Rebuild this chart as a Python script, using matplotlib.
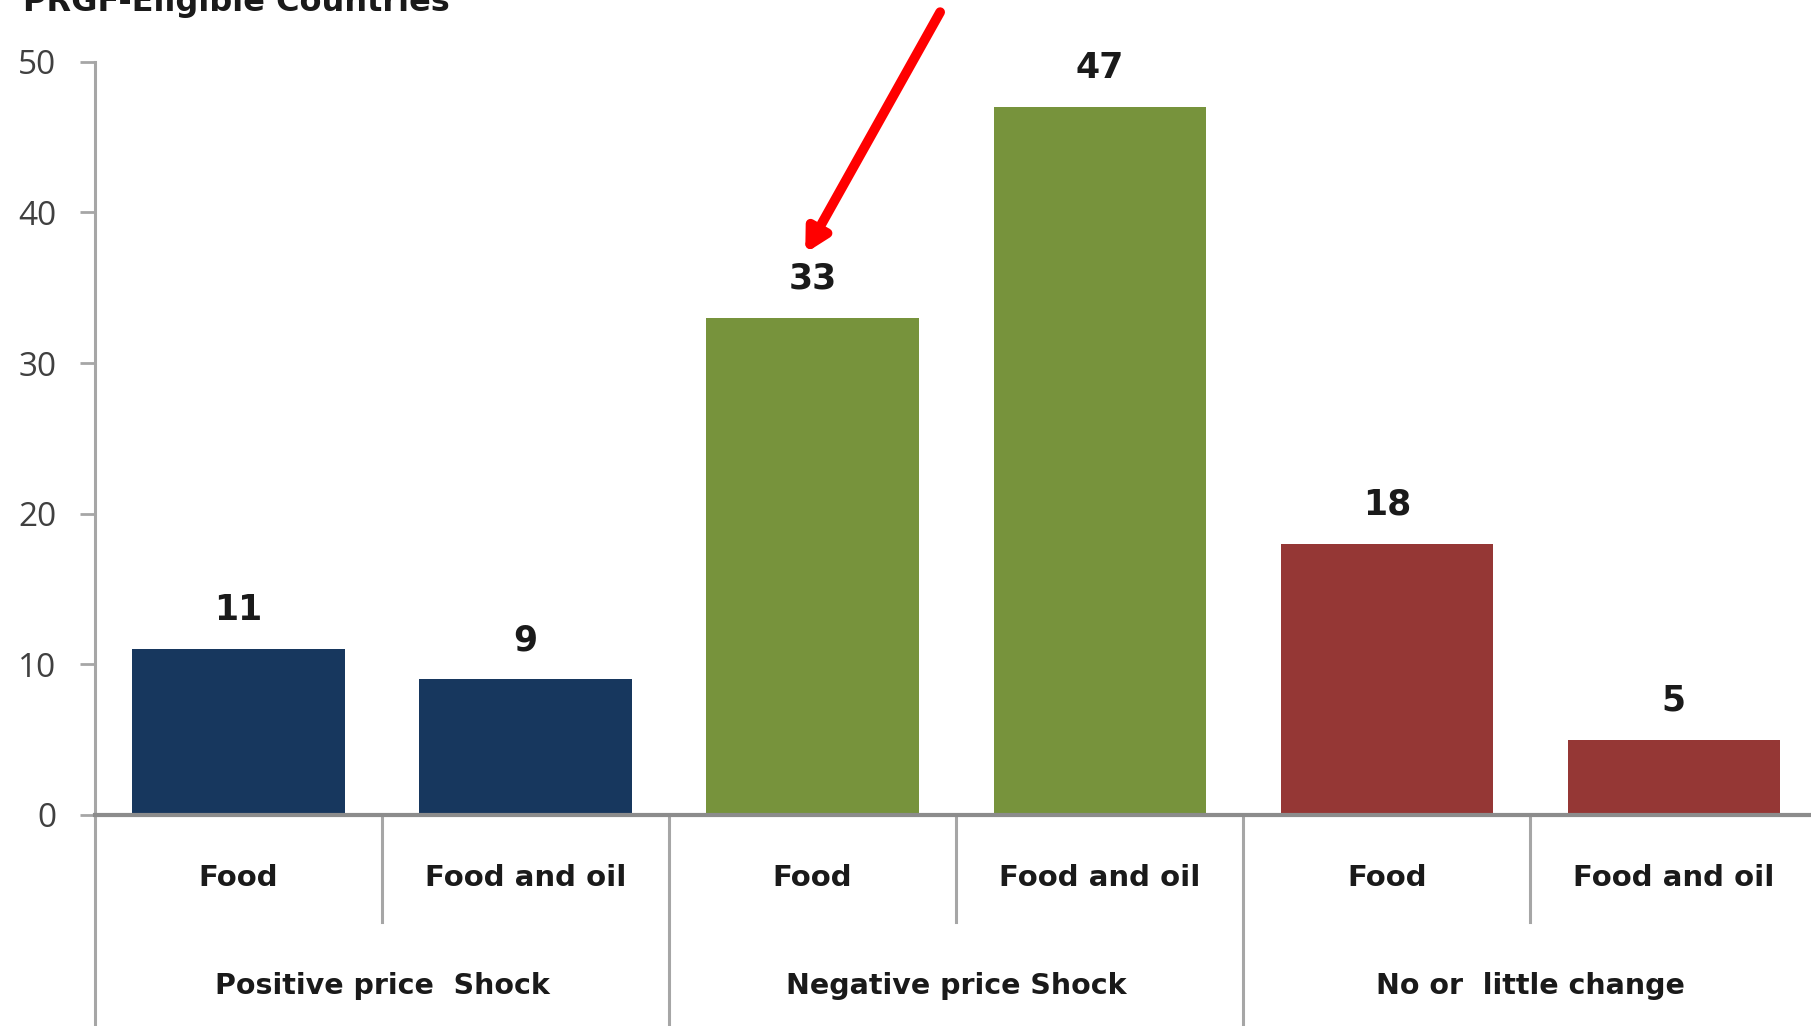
import matplotlib.pyplot as plt

# data
groups = ["Positive price  Shock", "Negative price Shock", "No or  little change"]
subcats = ["Food", "Food and oil"]
values = [11, 9, 33, 47, 18, 5]
colors = ["#17375E", "#17375E", "#77933C", "#77933C", "#953735", "#953735"]
yticks = [0, 10, 20, 30, 40, 50]

fig = plt.figure(figsize=(18.11, 10.26), dpi=100)
ax = fig.add_axes([0.0525, 0.2057, 0.951, 0.734])

x = list(range(len(values)))
ax.bar(x, values, width=0.74, color=colors, zorder=2)

ax.set_xlim(-0.5, len(values) - 0.5)
ax.set_ylim(0, 50)
ax.set_yticks(yticks)
ax.set_yticklabels([str(t) for t in yticks], fontsize=24, family="Open Sans", color="#404040")
ax.tick_params(axis="y", length=11, width=2, color="#a6a6a6", pad=17)
ax.set_xticks([])

for s in ["top", "right"]:
    ax.spines[s].set_visible(False)
ax.spines["left"].set_color("#a6a6a6")
ax.spines["left"].set_linewidth(2.2)
ax.spines["bottom"].set_color("#8c8c8c")
ax.spines["bottom"].set_linewidth(3)
ax.spines["bottom"].set_zorder(3)

# value labels
for xi, v in zip(x, values):
    ax.annotate(str(v), (xi, v), xytext=(0, 21), textcoords="offset points",
                ha="center", va="baseline", fontsize=25, fontweight="bold",
                color="#1a1a1a", family="DejaVu Sans")

# two-level category axis
tr = ax.get_xaxis_transform()
for i, xi in enumerate(x):
    ax.text(xi, -0.084, subcats[i % 2], transform=tr, ha="center", va="center",
            fontsize=21, fontweight="bold", color="#1a1a1a", family="DejaVu Sans")
for g, name in enumerate(groups):
    ax.text(2 * g + 0.5, -0.227, name, transform=tr, ha="center", va="center",
            fontsize=20.5, fontweight="bold", color="#1a1a1a", family="DejaVu Sans")

for b in [0.5, 2.5, 4.5]:
    ax.plot([b, b], [0, -0.142], transform=tr, color="#a6a6a6", lw=2.2, clip_on=False)
for b in [-0.5, 1.5, 3.5]:
    ax.plot([b, b], [0, -0.3], transform=tr, color="#a6a6a6", lw=2.2, clip_on=False)

# red arrow pointing at the 33 label
ax.annotate("", xy=(1.974, 37.3), xytext=(2.444, 53.3),
            arrowprops=dict(arrowstyle="-|>,head_length=1.3,head_width=0.7",
                            color="#ff0000", lw=7, shrinkA=0, shrinkB=0),
            annotation_clip=False)

fig.text(0.0127, 0.989, "PRGF-Eligible Countries", ha="left", va="baseline",
         fontsize=23, fontweight="bold", color="#1a1a1a", family="DejaVu Sans")

fig.savefig("out.png", dpi=100)
